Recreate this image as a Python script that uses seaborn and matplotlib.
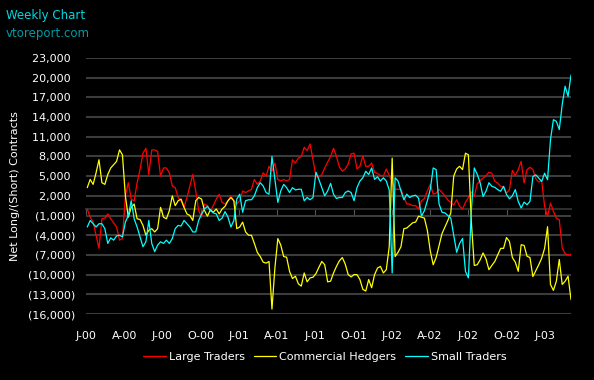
import pandas as pd
import matplotlib
matplotlib.use('Agg')
import matplotlib.pyplot as plt
import seaborn as sns

# weekly net positions, Jan 2000 - Mar 2003
large_traders = [
    0, -1250, -2000, -4000, -6000, -1500, -1400, -750, -1500, -2100, -2750, -4750, -4500, 2000, 4000, 1500,
    1250, 4000, 6000, 8500, 9250, 5250, 9000, 9000, 8750, 5000, 6250, 6250, 5500, 3500, 3250, 1750, 1250,
    250, 1750, 3500, 5250, 2750, -250, -1250, 750, 500, -250, 500, 1500, 2250, 1000, 750, 1250,
    2000, 1250, 750, 1250, 2750, 2500, 2750, 3000, 4500, 3750, 4250, 5500, 5000, 6500, 5750, 7000,
    4500, 4250, 4500, 4250, 4500, 7500, 7000, 7750, 8000, 9400, 8900, 9900, 7500, 5000, 4850, 5250,
    6250, 7150, 8000, 9250, 8000, 6400, 5750, 6100, 6850, 8400, 8500, 6100, 6500, 8100, 6500, 6500, 7000,
    5600, 5400, 5100, 5000, 6100, 5100, 4250, 3000, 3000, 3000, 1750, 750, 750, 500, 500, 0,
    1250, 1600, 2750, 3750, 2250, 2400, 3000, 2500, 2000, 1350, 1000, 600, 1400, 400, 0, 1000,
    1750, 2600, 1900, 3800, 4300, 4700, 5050, 5600, 5450, 4200, 3950, 3450, 3350, 2400, 2950, 5850,
    5100, 6000, 7250, 3950, 6000, 6350, 6000, 4600, 4100, 4300, 400, -1150, 900, -350, -1400, -1650,
    -5950, -6800, -7000, -6900,
]
commercial_hedgers = [
    3250, 4500, 3750, 5500, 7500, 4000, 3750, 5250, 6250, 6750, 7250, 9000, 8250, 2000, -1250, 250,
    750, -1500, -1600, -2500, -4000, -3250, -3000, -3500, -3000, 250, -1250, -1500, -250, 2000, 500, 1250, 1500,
    250, -750, -1000, -1750, 1250, 1750, 1500, -250, -1100, -100, -500, 0, -750, 0, 400, 1250,
    1750, 1250, -3000, -2750, -2000, -3500, -4000, -4000, -5250, -6600, -7250, -8100, -8250, -8000, -15250, -9000,
    -4500, -5500, -7250, -7350, -9500, -10600, -10250, -11400, -11750, -9750, -11100, -10500, -10400, -9850, -8900, -8000,
    -8500, -11100, -11000, -9750, -8750, -7900, -7400, -8400, -10000, -10350, -10000, -10000, -10750, -12250, -12500, -10750, -12000,
    -10000, -9000, -8750, -9750, -9250, -5750, 7750, -7250, -6600, -5750, -3000, -2900, -2500, -2100, -2000, -1100,
    -1250, -1400, -3250, -6400, -8500, -7400, -5600, -3750, -2750, -1750, -600, 5000, 6100, 6500, 6000, 8500,
    8250, -1900, -8600, -8500, -7750, -6700, -7600, -9250, -8600, -8000, -7000, -6000, -6000, -4350, -4950, -7400,
    -8100, -9500, -5450, -5550, -7200, -7400, -10300, -9400, -8500, -7500, -6000, -2700, -11500, -12400, -11000, -7700,
    -11500, -11000, -10250, -13800,
]
small_traders = [
    -2750, -1750, -2250, -2750, -2250, -2250, -3000, -5250, -4400, -4750, -4100, -4000, -4250, -2000, -1000, 1250,
    -1500, -2750, -4250, -5750, -5000, -1750, -5250, -6500, -5500, -5000, -5250, -4750, -5250, -4500, -3000, -2500, -2600,
    -1750, -2250, -2750, -3500, -3500, -1750, -750, 0, 400, -250, -600, -750, -1750, -1400, -400, -1250,
    -2750, -1750, 1500, 2250, -500, 1250, 1400, 1400, 2000, 3250, 4000, 3500, 2500, 2250, 8000, 4500,
    1000, 2750, 3750, 3250, 2500, 3250, 2900, 3000, 3000, 1250, 1750, 1400, 1750, 5600, 4500, 3250,
    2000, 2750, 3900, 2250, 1600, 1750, 1750, 2500, 2750, 2500, 1250, 3250, 4250, 4750, 5750, 5250, 6250,
    4500, 4900, 4250, 4750, 4250, 2900, -9750, 4750, 4250, 2750, 1400, 2250, 1750, 2000, 2100, 1650,
    -1100, -250, 1250, 3000, 6250, 6000, 750, -500, -600, -1000, -1400, -4000, -6600, -5250, -4500, -9500,
    -10500, -350, 6250, 5300, 4000, 1900, 2700, 4000, 3450, 3300, 2950, 2700, 3450, 2200, 1550, 2000,
    2950, 1150, 150, 1050, 650, 1150, 4950, 5200, 4700, 4200, 5450, 4450, 10550, 13600, 13350, 12100,
    15900, 18700, 17150, 20400,
]

series_names = ['Large Traders', 'Commercial Hedgers', 'Small Traders']
series_colors = ['#ff0000', '#ffff00', '#00ffff']

x_tick_labels = ['J-00', 'A-00', 'J-00', 'O-00', 'J-01', 'A-01', 'J-01', 'O-01',
                 'J-02', 'A-02', 'J-02', 'O-02', 'J-03']
y_ticks = list(range(-16000, 23001, 3000))

weeks = pd.date_range('2000-01-04', periods=len(large_traders), freq='W-TUE')
tick_dates = pd.date_range('2000-01-01', periods=len(x_tick_labels), freq='QS')

df = pd.DataFrame({'week': weeks,
                   'Large Traders': large_traders,
                   'Commercial Hedgers': commercial_hedgers,
                   'Small Traders': small_traders})
df_long = df.melt(id_vars='week', var_name='series', value_name='net')

sns.set_style('dark', {'axes.facecolor': 'black', 'figure.facecolor': 'black'})
plt.rcParams['font.family'] = ['DejaVu Sans']

fig = plt.figure(figsize=(5.94, 3.80), dpi=100)
ax = fig.add_axes([86 / 594, 1 - 314 / 380, (571 - 86) / 594, (314 - 58) / 380])
ax.set_facecolor('black')

sns.lineplot(data=df_long, x='week', y='net', hue='series', hue_order=series_names,
             palette=dict(zip(series_names, series_colors)), linewidth=0.9, ax=ax)

ax.set_xlim(tick_dates[0], weeks[-1])
ax.set_ylim(y_ticks[0], y_ticks[-1])
ax.set_yticks(y_ticks)
# accounting style: negatives in brackets, positives padded for the ")"
ax.yaxis.set_major_formatter(plt.FuncFormatter(
    lambda v, pos: f'({abs(v):,.0f})' if v < 0 else f'{v:,.0f}\u2009\u2009'))
ax.set_xticks(tick_dates)
ax.set_xticklabels(x_tick_labels)

ax.grid(axis='y', color='#3c3c3c', linewidth=1.5)
ax.grid(axis='x', visible=False)
ax.set_axisbelow(True)
for s in ax.spines.values():
    s.set_visible(False)
ax.tick_params(axis='both', length=0, colors='white', labelsize=8)
ax.tick_params(axis='x', pad=12)
ax.tick_params(axis='y', pad=8)

# zero line with small quarter ticks
zero_ax = ax.secondary_xaxis((0 - y_ticks[0]) / (y_ticks[-1] - y_ticks[0]))
zero_ax.spines['bottom'].set_color('#2e2e2e')
zero_ax.spines['bottom'].set_linewidth(1.5)
zero_ax.set_xticks(tick_dates)
zero_ax.tick_params(axis='x', direction='out', length=4, color='#555555', labelbottom=False, labeltop=False)

ax.set_xlabel('')
ax.set_ylabel('Net Long/(Short) Contracts', color='white', fontsize=8)
ax.yaxis.set_label_coords(-(86 - 20) / 485, 0.5)

sns.move_legend(ax, 'center', bbox_to_anchor=((325 - 86) / 485, -(357 - 314) / 256),
                ncol=3, frameon=False, title=None, fontsize=8, labelcolor='white',
                handlelength=2.0, handletextpad=0.3, columnspacing=0.8)

fig.text(6 / 594, 1 - 15 / 380, 'Weekly Chart', color='#00d8e0', fontsize=8.5, va='center')
fig.text(6 / 594, 1 - 33 / 380, 'vtoreport.com', color='#009aa4', fontsize=8.5, va='center')

fig.savefig('out.png', dpi=100, facecolor='black')
